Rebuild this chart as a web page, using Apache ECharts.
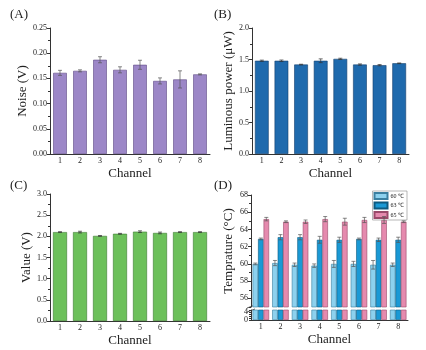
<!DOCTYPE html>
<html lang="en">
<head>
  <meta charset="UTF-8">
  <script src="https://cdn.jsdelivr.net/npm/echarts@6.0.0/dist/echarts.min.js"></script>
  <style>
    html, body { margin: 0; padding: 0; background: #fff; }
    #container { width: 426px; height: 350px; }
  </style>
</head>
<body>
  <div id="container"></div>
  <script>
    // data
    var channels = ['1', '2', '3', '4', '5', '6', '7', '8'];
    var noise = [0.161, 0.165, 0.187, 0.167, 0.177, 0.145, 0.148, 0.158];
    var noiseErr = [0.005, 0.002, 0.006, 0.006, 0.009, 0.006, 0.017, 0.001];
    var power = [1.48, 1.48, 1.42, 1.48, 1.51, 1.42, 1.41, 1.44];
    var powerErr = [0.01, 0.012, 0.005, 0.03, 0.01, 0.01, 0.01, 0.005];
    var volt = [2.10, 2.10, 2.01, 2.06, 2.11, 2.08, 2.10, 2.10];
    var voltErr = [0.01, 0.02, 0.01, 0.01, 0.02, 0.02, 0.01, 0.01];
    var tempNames = ['60 ℃', '63 ℃', '65 ℃'];
    var t60 = [60.0, 60.1, 59.9, 59.8, 60.0, 60.0, 59.9, 59.9];
    var t60Err = [0.1, 0.3, 0.2, 0.2, 0.4, 0.3, 0.5, 0.2];
    var t63 = [62.9, 63.1, 63.1, 62.8, 62.8, 62.9, 62.8, 62.8];
    var t63Err = [0.1, 0.3, 0.3, 0.4, 0.3, 0.1, 0.2, 0.3];
    var t65 = [65.2, 64.9, 64.9, 65.2, 64.9, 65.1, 65.1, 64.9];
    var t65Err = [0.2, 0.1, 0.2, 0.3, 0.4, 0.3, 0.4, 0.1];
    var upperTicks = [56, 58, 60, 62, 64, 66, 68];
    var upperMinor = [55, 57, 59, 61, 63, 65, 67];

    var serif = 'Liberation Serif';
    var ink = '#222';

    function xAxis(grid, show) {
      return {
        type: 'category', gridIndex: grid, data: channels, show: show,
        name: 'Channel', nameLocation: 'middle', nameGap: 13,
        nameTextStyle: { fontFamily: serif, fontSize: 13, color: ink },
        axisLine: { lineStyle: { color: '#333', width: 1 } },
        axisTick: { alignWithLabel: true, length: 3, lineStyle: { color: '#333' } },
        axisLabel: { fontFamily: serif, fontSize: 8, color: ink, margin: 3 }
      };
    }

    function yAxis(grid, min, max, interval, name, fmt) {
      return {
        type: 'value', gridIndex: grid, min: min, max: max, interval: interval,
        name: name, nameLocation: 'middle', nameGap: 16,
        nameTextStyle: { fontFamily: serif, fontSize: 13, color: ink },
        splitLine: { show: false },
        axisLine: { show: true, lineStyle: { color: '#333', width: 1 } },
        axisTick: { show: true, length: 3, lineStyle: { color: '#333' } },
        minorTick: { show: true, splitNumber: 2, length: 2, lineStyle: { color: '#333' } },
        axisLabel: { fontFamily: serif, fontSize: 8, color: ink, margin: 3, formatter: fmt }
      };
    }

    function bar(name, xi, yi, vals, color, border, width) {
      return {
        name: name, type: 'bar', xAxisIndex: xi, yAxisIndex: yi, data: vals,
        barWidth: width, barGap: '0%',
        itemStyle: { color: color, borderColor: border, borderWidth: 0.6 }
      };
    }

    function errBar(xi, yi, vals, errs, offset, color) {
      return {
        type: 'custom', xAxisIndex: xi, yAxisIndex: yi, z: 10, silent: true,
        data: vals.map(function (v, i) { return [i, v - errs[i], v + errs[i]]; }),
        renderItem: function (params, api) {
          var lo = api.coord([api.value(0), api.value(1)]);
          var hi = api.coord([api.value(0), api.value(2)]);
          var x = lo[0] + offset, w = 2;
          var st = { stroke: color, lineWidth: 0.7 };
          return {
            type: 'group', children: [
              { type: 'line', shape: { x1: x, y1: lo[1], x2: x, y2: hi[1] }, style: st },
              { type: 'line', shape: { x1: x - w, y1: hi[1], x2: x + w, y2: hi[1] }, style: st },
              { type: 'line', shape: { x1: x - w, y1: lo[1], x2: x + w, y2: lo[1] }, style: st }
            ]
          };
        }
      };
    }

    var myChart = echarts.init(document.getElementById('container'));

    var dW = 5.5;
    var colD = ['#8dd1ee', '#1a99d5', '#e58aae'];
    var bordD = ['#3a7fa0', '#0d5a80', '#9a4a6a'];
    var dVals = [t60, t63, t65];
    var dErrs = [t60Err, t63Err, t65Err];

    var series = [
      bar('A', 0, 0, noise, '#9c87c7', '#5e4a85', '68%'),
      errBar(0, 0, noise, noiseErr, 0, '#555'),
      bar('B', 1, 1, power, '#1f6aad', '#163f6b', '70%'),
      errBar(1, 1, power, powerErr, 0, '#333'),
      bar('C', 2, 2, volt, '#6cc05a', '#3d7a30', '70%'),
      errBar(2, 2, volt, voltErr, 0, '#333')
    ];
    for (var k = 0; k < 3; k++) {
      series.push(bar(tempNames[k], 3, 3, dVals[k], colD[k], bordD[k], dW));
      series.push(errBar(3, 3, dVals[k], dErrs[k], (k - 1) * dW, '#555'));
      series.push(bar(tempNames[k], 4, 4, dVals[k], colD[k], bordD[k], dW));
    }

    var upperY = yAxis(3, 55, 68, null, 'Temprature (°C)');
    upperY.axisLabel.customValues = upperTicks;
    upperY.axisTick.customValues = upperTicks;
    upperY.minorTick.show = false;
    var upperMinorY = {
      type: 'value', gridIndex: 3, min: 55, max: 68, position: 'left',
      splitLine: { show: false }, axisLine: { show: false }, axisLabel: { show: false },
      axisTick: { show: true, length: 2, customValues: upperMinor, lineStyle: { color: '#333' } }
    };
    var lowerY = yAxis(4, 0, 5, 1, '', function (v) { return (v === 0 || v === 4) ? v : ''; });
    lowerY.minorTick.show = false;
    lowerY.axisTick.length = 2;

    var option = {
      animation: false,
      title: [
        { text: '(A)', left: 10, top: 8 },
        { text: '(B)', left: 214, top: 8 },
        { text: '(C)', left: 10, top: 179 },
        { text: '(D)', left: 214, top: 179 }
      ].map(function (t) {
        t.padding = 0;
        t.textStyle = { fontFamily: serif, fontSize: 13, fontWeight: 'normal', color: ink };
        return t;
      }),
      legend: {
        data: tempNames, orient: 'vertical', right: 19, top: 191,
        itemWidth: 13, itemHeight: 6, itemGap: 1.5, icon: 'rect',
        padding: [1, 3, 1, 1], borderColor: '#888', borderWidth: 0.6,
        textStyle: { fontFamily: serif, fontSize: 6, color: ink, padding: [0, 0, 0, -2] }
      },
      grid: [
        { left: 50, right: 216, top: 28, bottom: 196 },
        { left: 252, right: 17, top: 28, bottom: 196 },
        { left: 50, right: 216, top: 194, bottom: 29 },
        { left: 251, right: 18, top: 195, bottom: 43 },
        { left: 251, right: 18, top: 310, bottom: 30 }
      ],
      xAxis: [xAxis(0, true), xAxis(1, true), xAxis(2, true), xAxis(3, false), xAxis(4, true)],
      yAxis: [
        yAxis(0, 0, 0.25, 0.05, 'Noise (V)', function (v) { return v.toFixed(2); }),
        yAxis(1, 0, 2, 0.5, 'Luminous power (μW)', function (v) { return v.toFixed(1); }),
        yAxis(2, 0, 3, 0.5, 'Value (V)', function (v) { return v.toFixed(1); }),
        upperY,
        lowerY,
        upperMinorY
      ],
      graphic: [
        { type: 'line', shape: { x1: 247, y1: 308, x2: 255, y2: 305 }, style: { stroke: '#333', lineWidth: 0.8 } },
        { type: 'line', shape: { x1: 247, y1: 312, x2: 255, y2: 309 }, style: { stroke: '#333', lineWidth: 0.8 } }
      ],
      series: series
    };

    myChart.setOption(option);
  </script>
</body>
</html>
